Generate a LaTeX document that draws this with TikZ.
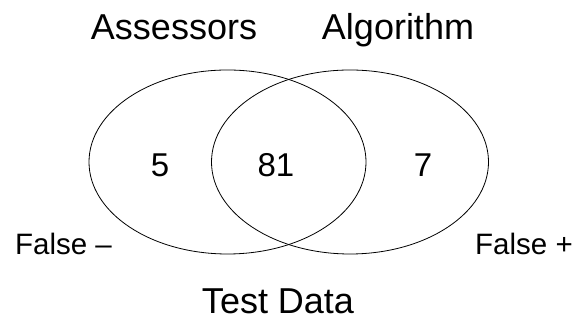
\documentclass[tikz,border=0pt]{standalone}
\usepackage{fontspec}
\setmainfont{Liberation Sans}
\tikzset{
  setlabel/.style={anchor=base, inner sep=0pt, font=\fontsize{36}{36}\selectfont},
  countlabel/.style={anchor=base, inner sep=0pt, font=\fontsize{33}{33}\selectfont},
  sidelabel/.style={anchor=base west, inner sep=0pt, font=\fontsize{29.5}{29.5}\selectfont}
}
\begin{document}
\begin{tikzpicture}[x=1pt, y=1pt]
  \useasboundingbox (0,0) rectangle (583,320);
  % The two sets.
  \draw[line width=0.8pt] (227.5,158) ellipse [x radius=138.5, y radius=92];
  \draw[line width=0.8pt] (350,158) ellipse [x radius=138.5, y radius=92];
  % Set names above.
  \node[setlabel] (assessors) at (174,280) {Assessors};
  \node[setlabel] (algorithm) at (398,280) {Algorithm};
  % Counts in each region.
  \node[countlabel] (onlyassess) at (160,143) {5};
  \node[countlabel] (both) at (276,143) {81};
  \node[countlabel] (onlyalgo) at (423,143) {7};
  % Error labels and universe.
  \node[sidelabel] (falseneg) at (15,65.5) {False –};
  \node[sidelabel] (falsepos) at (475,65) {False +};
  \node[setlabel] (testdata) at (278,6.5) {Test Data};
\end{tikzpicture}
\end{document}
